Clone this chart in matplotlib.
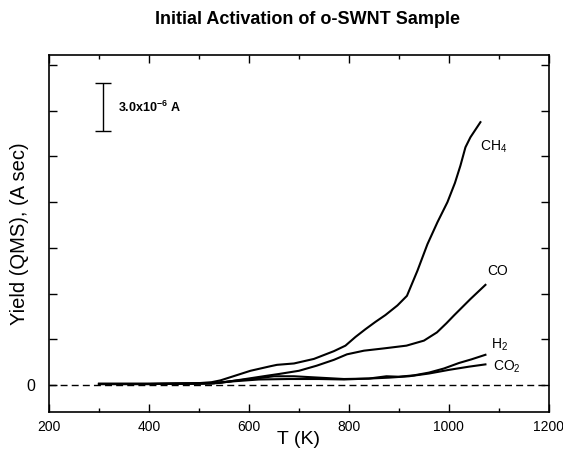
import matplotlib
matplotlib.use('Agg')
import matplotlib.pyplot as plt
from matplotlib.ticker import MultipleLocator

plt.rcParams['font.family'] = ['Liberation Sans', 'DejaVu Sans']
plt.rcParams['mathtext.fontset'] = 'custom'
plt.rcParams['mathtext.rm'] = 'Liberation Sans'
plt.rcParams['mathtext.it'] = 'Liberation Sans:italic'
plt.rcParams['mathtext.bf'] = 'Liberation Sans:bold'

# yields in units of the scale bar (3.0e-6 A per tick)
t_ch4 = [300, 400, 500, 525, 543, 563, 583, 603, 623, 643, 656, 690, 730, 770, 793,
         813, 833, 853, 873, 897, 916, 937, 957, 977, 997, 1012, 1023, 1033, 1043, 1063]
y_ch4 = [0.03, 0.03, 0.04, 0.06, 0.10, 0.17, 0.24, 0.31, 0.36, 0.41, 0.44, 0.47, 0.57,
         0.74, 0.86, 1.05, 1.22, 1.38, 1.53, 1.74, 1.95, 2.50, 3.08, 3.56, 4.00, 4.42,
         4.80, 5.20, 5.42, 5.75]

t_co = [300, 400, 500, 525, 545, 575, 605, 635, 660, 700, 735, 770, 796, 830, 870,
        915, 950, 976, 995, 1010, 1043, 1073]
y_co = [0.02, 0.02, 0.03, 0.03, 0.05, 0.10, 0.15, 0.20, 0.24, 0.31, 0.42, 0.55, 0.67,
        0.75, 0.80, 0.86, 0.97, 1.15, 1.35, 1.52, 1.88, 2.19]

t_h2 = [300, 400, 500, 530, 570, 620, 680, 740, 790, 840, 875, 900, 930, 960, 990,
        1020, 1045, 1073]
y_h2 = [0.02, 0.02, 0.03, 0.04, 0.08, 0.12, 0.13, 0.13, 0.12, 0.14, 0.19, 0.18, 0.21,
        0.27, 0.36, 0.48, 0.56, 0.66]

t_co2 = [300, 400, 500, 530, 570, 620, 650, 690, 740, 790, 840, 880, 920, 960, 1000,
         1040, 1073]
y_co2 = [0.02, 0.02, 0.03, 0.04, 0.09, 0.15, 0.19, 0.19, 0.16, 0.13, 0.14, 0.16, 0.19,
         0.25, 0.33, 0.40, 0.45]

labels = ['CH$_4$', 'CO', 'H$_2$', 'CO$_2$']
label_t = [1063, 1077, 1085, 1089]
label_y = [5.2, 2.49, 0.87, 0.39]

scale_t = 308
scale_lo, scale_hi = 5.56, 6.60
scale_text = r'$\mathbf{3.0x10^{-6}\ A}$'

fig = plt.figure(figsize=(5.63, 4.62), dpi=100)
ax = fig.add_axes([0.087, 0.109, 0.888, 0.772])

for t, y in [(t_ch4, y_ch4), (t_co, y_co), (t_h2, y_h2), (t_co2, y_co2)]:
    ax.plot(t, y, color='black', lw=1.5)

ax.axhline(0, color='black', lw=1, dashes=(5, 3))

for lab, t, y in zip(labels, label_t, label_y):
    ax.text(t, y, lab, fontsize=10, va='center', ha='left')

ax.errorbar([scale_t], [(scale_lo + scale_hi) / 2], yerr=[(scale_hi - scale_lo) / 2],
            color='black', lw=1, capsize=5.5, capthick=1)
ax.text(scale_t + 30, (scale_lo + scale_hi) / 2, scale_text, fontsize=9, va='center')

ax.set_xlim(200, 1200)
ax.set_ylim(-0.584, 7.22)
ax.xaxis.set_major_locator(MultipleLocator(200))
ax.xaxis.set_minor_locator(MultipleLocator(100))
ax.set_yticks(range(0, 8))
ax.set_yticklabels(['0'] + [''] * 7)

ax.tick_params(axis='x', which='major', direction='in', length=5.5, width=1,
               top=True, labelsize=10, pad=6)
ax.tick_params(axis='x', which='minor', direction='in', length=3, width=1, top=True)
ax.tick_params(axis='y', direction='in', length=5.5, width=1, right=True,
               labelsize=11.5, pad=10)
for s in ax.spines.values():
    s.set_linewidth(1.2)

ax.set_xlabel('T (K)', fontsize=14)
ax.set_ylabel('Yield (QMS), (A sec)', fontsize=14.5)
ax.xaxis.set_label_coords(0.5, -0.054)
ax.yaxis.set_label_coords(-0.04, 0.5)

fig.text(308 / 563, 1 - 20 / 462, 'Initial Activation of o-SWNT Sample',
         ha='center', va='center', fontsize=13, fontweight='bold')

fig.savefig('out.png', dpi=100)
